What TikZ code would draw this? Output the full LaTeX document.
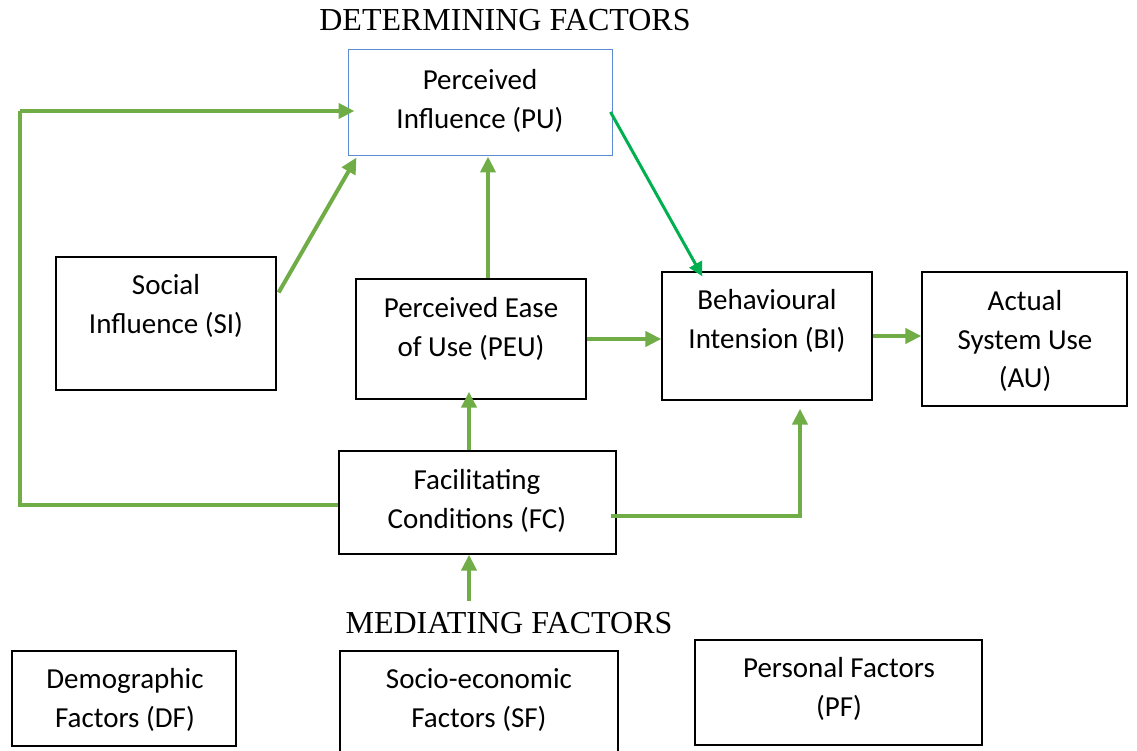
\documentclass[tikz,border=0pt]{standalone}
\usepackage{fontspec}
\setmainfont{Carlito}
\newfontfamily\timesf{Liberation Serif}
\usetikzlibrary{arrows.meta}
\definecolor{ggreen}{RGB}{112,173,71}
\definecolor{dgreen}{RGB}{0,176,80}
\definecolor{pblue}{RGB}{91,140,210}
\begin{document}
\begin{tikzpicture}[x=1pt,y=-1pt,
  box/.style={draw=black, line width=1.3pt, inner sep=0pt},
  txt/.style={align=center, inner sep=0pt, font=\fontsize{29}{38.5}\selectfont},
  title/.style={inner sep=0pt, font=\timesf\fontsize{32}{38}\selectfont},
  garrow/.style={draw=ggreen, line width=4pt, -{Triangle[length=16pt,width=15pt]}},
  gline/.style={draw=ggreen, line width=4pt},
  darrow/.style={draw=dgreen, line width=3pt, -{Triangle[length=14pt,width=14pt]}}]
\useasboundingbox (0,0) rectangle (1137,751);

% boxes
\node[box, draw=pblue, line width=1pt, minimum width=264pt, minimum height=106pt] (PU) at (480,103) {};
\node[box, minimum width=220pt, minimum height=133pt] (SI) at (166,323.5) {};
\node[box, minimum width=230pt, minimum height=120pt] (PEU) at (471,339) {};
\node[box, minimum width=210pt, minimum height=128pt] (BI) at (767,336) {};
\node[box, minimum width=205pt, minimum height=134pt] (AU) at (1024.5,339) {};
\node[box, minimum width=277pt, minimum height=103pt] (FC) at (477.5,502.5) {};
\node[box, minimum width=224pt, minimum height=95pt] (DF) at (124,698.5) {};
\node[box, minimum width=278pt, minimum height=106pt] (SF) at (479,704) {};
\node[box, minimum width=287pt, minimum height=105pt] (PF) at (838.5,692.5) {};

% texts
\node[txt] (PUt) at (480,101) {Perceived\\Influence (PU)};
\node[txt] (SIt) at (166,306) {Social\\Influence (SI)};
\node[txt] (PEUt) at (471,329) {Perceived Ease\\of Use (PEU)};
\node[txt] (BIt) at (767,321) {Behavioural\\Intension (BI)};
\node[txt] (AUt) at (1025,341) {Actual\\System Use\\(AU)};
\node[txt] (FCt) at (477,501) {Facilitating\\Conditions (FC)};
\node[txt] (DFt) at (125,700) {Demographic\\Factors (DF)};
\node[txt] (SFt) at (479,700) {Socio-economic\\Factors (SF)};
\node[txt] (PFt) at (839,689) {Personal Factors\\(PF)};

% titles
\node[title] (DET) at (505,20) {DETERMINING FACTORS};
\node[title] (MED) at (509,623) {MEDIATING FACTORS};

% connectors
\coordinate (L) at (20,111);
\draw[gline] ([yshift=-2.5pt]FC.west) -| (L);
\draw[garrow, shorten >=-7pt] (L) -- ([yshift=-8pt]PU.west);
\draw[garrow] ([yshift=31pt,xshift=2pt]SI.east) -- ([xshift=9pt,yshift=-1pt]PU.south west);
\draw[garrow] ([xshift=17pt]PEU.north) -- ([xshift=17pt]PEU.north |- PU.south);
\draw[darrow] ([yshift=-9pt,xshift=-2pt]PU.east) -- ([xshift=41pt,yshift=-5pt]BI.north west);
\draw[garrow] (PEU.east) -- (PEU.east -| BI.west);
\draw[garrow] (BI.east) -- (BI.east -| AU.west);
\draw[garrow, shorten >=-8pt] ([xshift=-8.5pt]FC.north) -- ([xshift=-8.5pt]FC.north |- PEU.south);
\draw[garrow] ([xshift=-6pt,yshift=-13.5pt]FC.east) -| ([xshift=33pt,yshift=-8pt]BI.south);
\coordinate (M) at (469,601);
\draw[garrow] (M) -- (M |- FC.south);
\end{tikzpicture}
\end{document}
